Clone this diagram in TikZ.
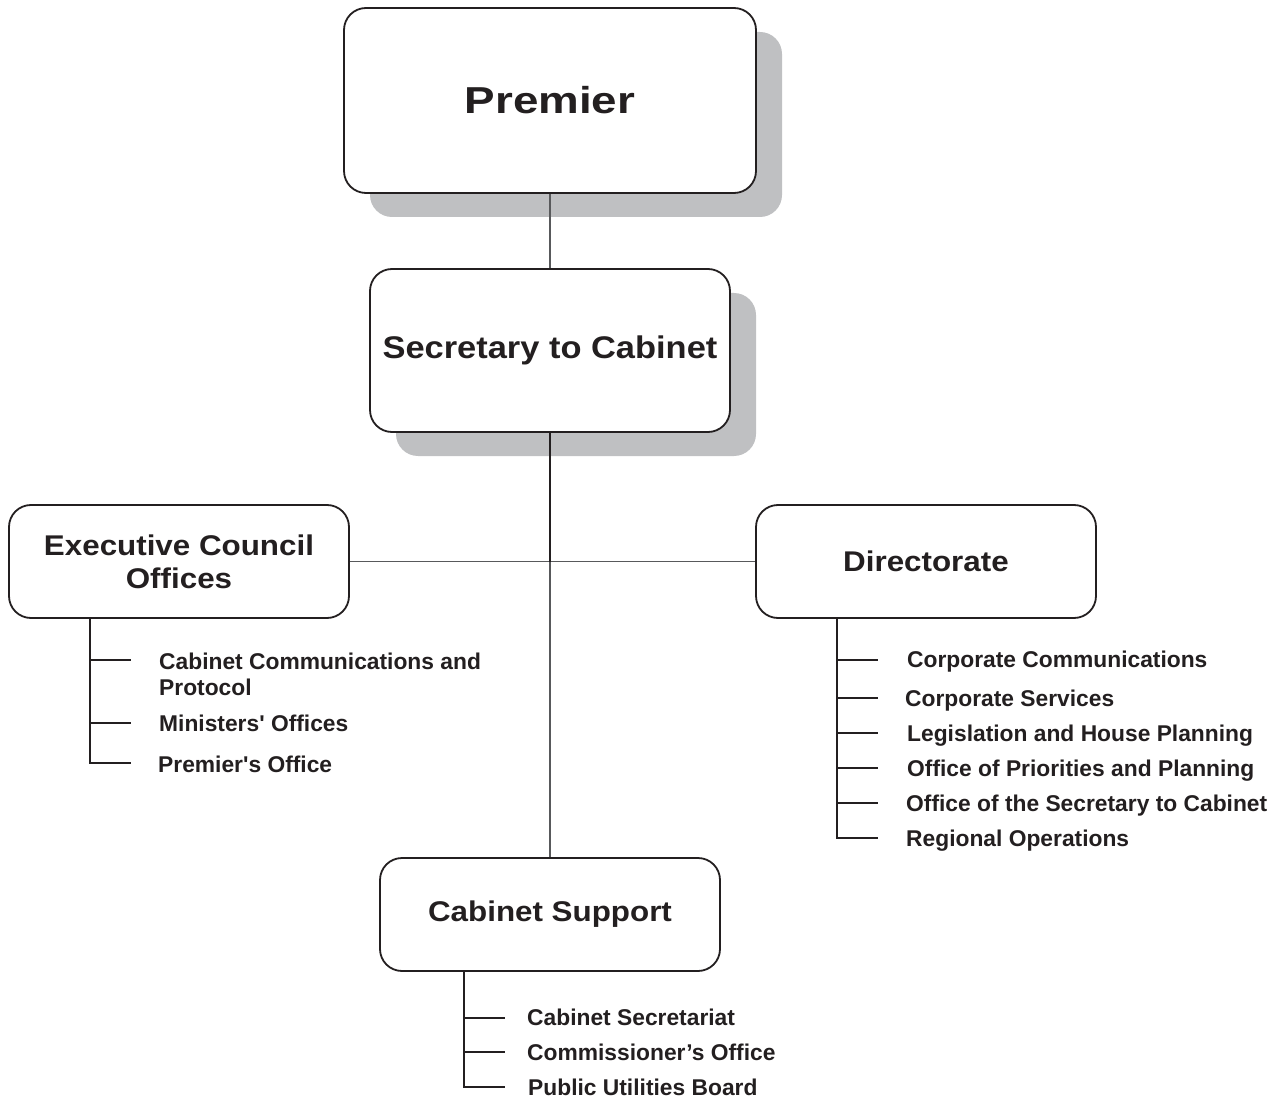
\documentclass[tikz,border=0pt]{standalone}
\usepackage{fontspec}
\setmainfont{Liberation Sans}
\newfontfamily\headfont[FakeStretch=1.1]{Liberation Sans}
\newfontfamily\premfont[FakeStretch=1.22]{Liberation Sans}
\usetikzlibrary{shadows}
\definecolor{ink}{HTML}{231F20}
\definecolor{shade}{HTML}{BFC0C2}
\definecolor{conn}{HTML}{58595B}
\begin{document}
\begin{tikzpicture}[x=1pt,y=-1pt,
  box/.style={draw=ink, line width=1.8pt, fill=white, rounded corners=22pt, inner sep=0pt, align=center, text=ink},
  shbox/.style={box, drop shadow={shadow xshift=26pt, shadow yshift=-24pt, fill=shade, opacity=1}},
  headtxt/.style={font=\headfont\bfseries\fontsize{28.5}{33}\selectfont},
  itemtxt/.style={anchor=base west, inner sep=0pt, text=ink, font=\bfseries\fontsize{22.8}{26}\selectfont},
  thinconn/.style={draw=conn, line width=1.1pt},
  thickconn/.style={draw=ink, line width=1.8pt},
  bracket/.style={draw=ink, line width=1.8pt}]
\useasboundingbox (0,0) rectangle (1286,1099);
% boxes
\node[shbox, minimum width=412pt, minimum height=185pt, font=\premfont\bfseries\fontsize{37.5}{40}\selectfont] (prem) at (550,100.5) {Premier};
\node[shbox, minimum width=360pt, minimum height=163pt, font=\headfont\bfseries\fontsize{31.3}{36}\selectfont] (sec) at (550,350.5) {Secretary to Cabinet};
\node[box, headtxt, minimum width=340pt, minimum height=113pt] (eco) at (179,561.5) {Executive Council\\Offices};
\node[box, headtxt, minimum width=340pt, minimum height=113pt] (dir) at (926,561.5) {Directorate};
\node[box, headtxt, minimum width=340pt, minimum height=113pt] (cs) at (550,914.5) {Cabinet Support};
% main connectors
\coordinate (junc) at (550,562);
\draw[thinconn] (prem.south) -- (sec.north);
\draw[thinconn] (eco.east) -- (dir.west);
\draw[thinconn] (junc) -- (cs.north);
\draw[thickconn] (sec.south) -- (junc);
% left bracket
\coordinate (eb) at ([xshift=82pt]eco.south west);
\coordinate (et1) at (131,660);
\coordinate (et2) at (131,723);
\coordinate (et3) at (131,763);
\foreach \t in {et1,et2,et3} \draw[bracket] (eb) |- (\t);
\node[itemtxt] (e1) at (159,669.2) {\begin{tabular}[t]{@{}l@{}}Cabinet Communications and\\Protocol\end{tabular}};
\node[itemtxt] (e2) at (159,731.2) {Ministers\textquotesingle{} Offices};
\node[itemtxt] (e3) at (158,772.2) {Premier\textquotesingle{}s Office};
% right bracket
\coordinate (db) at ([xshift=82pt]dir.south west);
\coordinate (dt1) at (878,660);
\coordinate (dt2) at (878,698);
\coordinate (dt3) at (878,733);
\coordinate (dt4) at (878,768);
\coordinate (dt5) at (878,803);
\coordinate (dt6) at (878,838);
\foreach \t in {dt1,dt2,dt3,dt4,dt5,dt6} \draw[bracket] (db) |- (\t);
\node[itemtxt] (d1) at (907,667.2) {Corporate Communications};
\node[itemtxt] (d2) at (905,706.2) {Corporate Services};
\node[itemtxt] (d3) at (907,741.2) {Legislation and House Planning};
\node[itemtxt] (d4) at (907,776.2) {Office of Priorities and Planning};
\node[itemtxt] (d5) at (906,811.2) {Office of the Secretary to Cabinet};
\node[itemtxt] (d6) at (906,846.2) {Regional Operations};
% bottom bracket
\coordinate (cb) at ([xshift=85pt]cs.south west);
\coordinate (ct1) at (505,1018);
\coordinate (ct2) at (505,1052);
\coordinate (ct3) at (505,1087);
\foreach \t in {ct1,ct2,ct3} \draw[bracket] (cb) |- (\t);
\node[itemtxt] (c1) at (527,1025.2) {Cabinet Secretariat};
\node[itemtxt] (c2) at (527,1060.2) {Commissioner’s Office};
\node[itemtxt] (c3) at (528,1095.2) {Public Utilities Board};
\end{tikzpicture}
\end{document}
